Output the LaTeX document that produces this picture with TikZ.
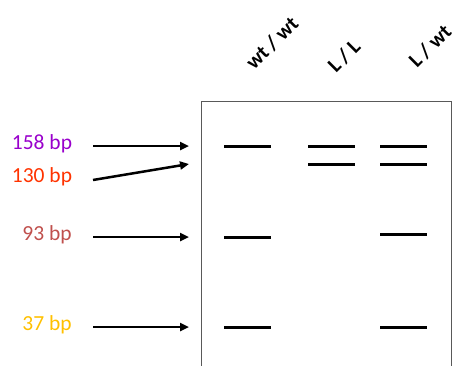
\documentclass[tikz,border=0pt]{standalone}
\usepackage{fontspec}
\setmainfont{Carlito}
\usetikzlibrary{arrows.meta}
\definecolor{cpurple}{HTML}{9900CC}
\definecolor{corange}{HTML}{FF3300}
\definecolor{cbrown}{HTML}{C0504D}
\definecolor{cgold}{HTML}{FFC000}
\begin{document}
\begin{tikzpicture}[x=1pt,y=-1pt,
  size/.style={font=\fontsize{21.5}{24}\selectfont},
  lane/.style={font=\fontsize{21}{24}\selectfont\bfseries,rotate=45,inner sep=0pt},
  band/.style={line width=3pt},
  arr/.style={line width=2.5pt,-{Triangle[length=9pt,width=8pt]}}]
\useasboundingbox (0,0) rectangle (457,365);
\draw[gray!70!black,line width=1pt] (201,370) -- (201,101) -- (451,101) -- (451,370);
% lane labels
\node[lane] (l1) at (272,43) {wt / wt};
\node[lane] (l2) at (344,56) {L / L};
\node[lane] (l3) at (430,46) {L / wt};
% size labels
\node[size,text=cpurple] (s158) at (42,144) {158 bp};
\node[size,text=corange] (s130) at (42,177) {130 bp};
\node[size,text=cbrown] (s93) at (47,235) {93 bp};
\node[size,text=cgold] (s37) at (47,325) {37 bp};
% arrows
\coordinate (a1s) at (93,146); \coordinate (a1e) at (189,146);
\coordinate (a2s) at (93,180); \coordinate (a2e) at (189,164);
\coordinate (a3s) at (93,237); \coordinate (a3e) at (189,237);
\coordinate (a4s) at (93,327); \coordinate (a4e) at (189,327);
\draw[arr] (a1s) -- (a1e);
\draw[arr] (a2s) -- (a2e);
\draw[arr] (a3s) -- (a3e);
\draw[arr] (a4s) -- (a4e);
% bands
\draw[band] (224,146) -- (271,146);
\draw[band] (224,237) -- (271,237);
\draw[band] (224,327) -- (271,327);
\draw[band] (308,146) -- (355,146);
\draw[band] (308,164) -- (355,164);
\draw[band] (380,146) -- (427,146);
\draw[band] (380,164) -- (427,164);
\draw[band] (380,234) -- (427,234);
\draw[band] (380,327) -- (427,327);
\end{tikzpicture}
\end{document}
